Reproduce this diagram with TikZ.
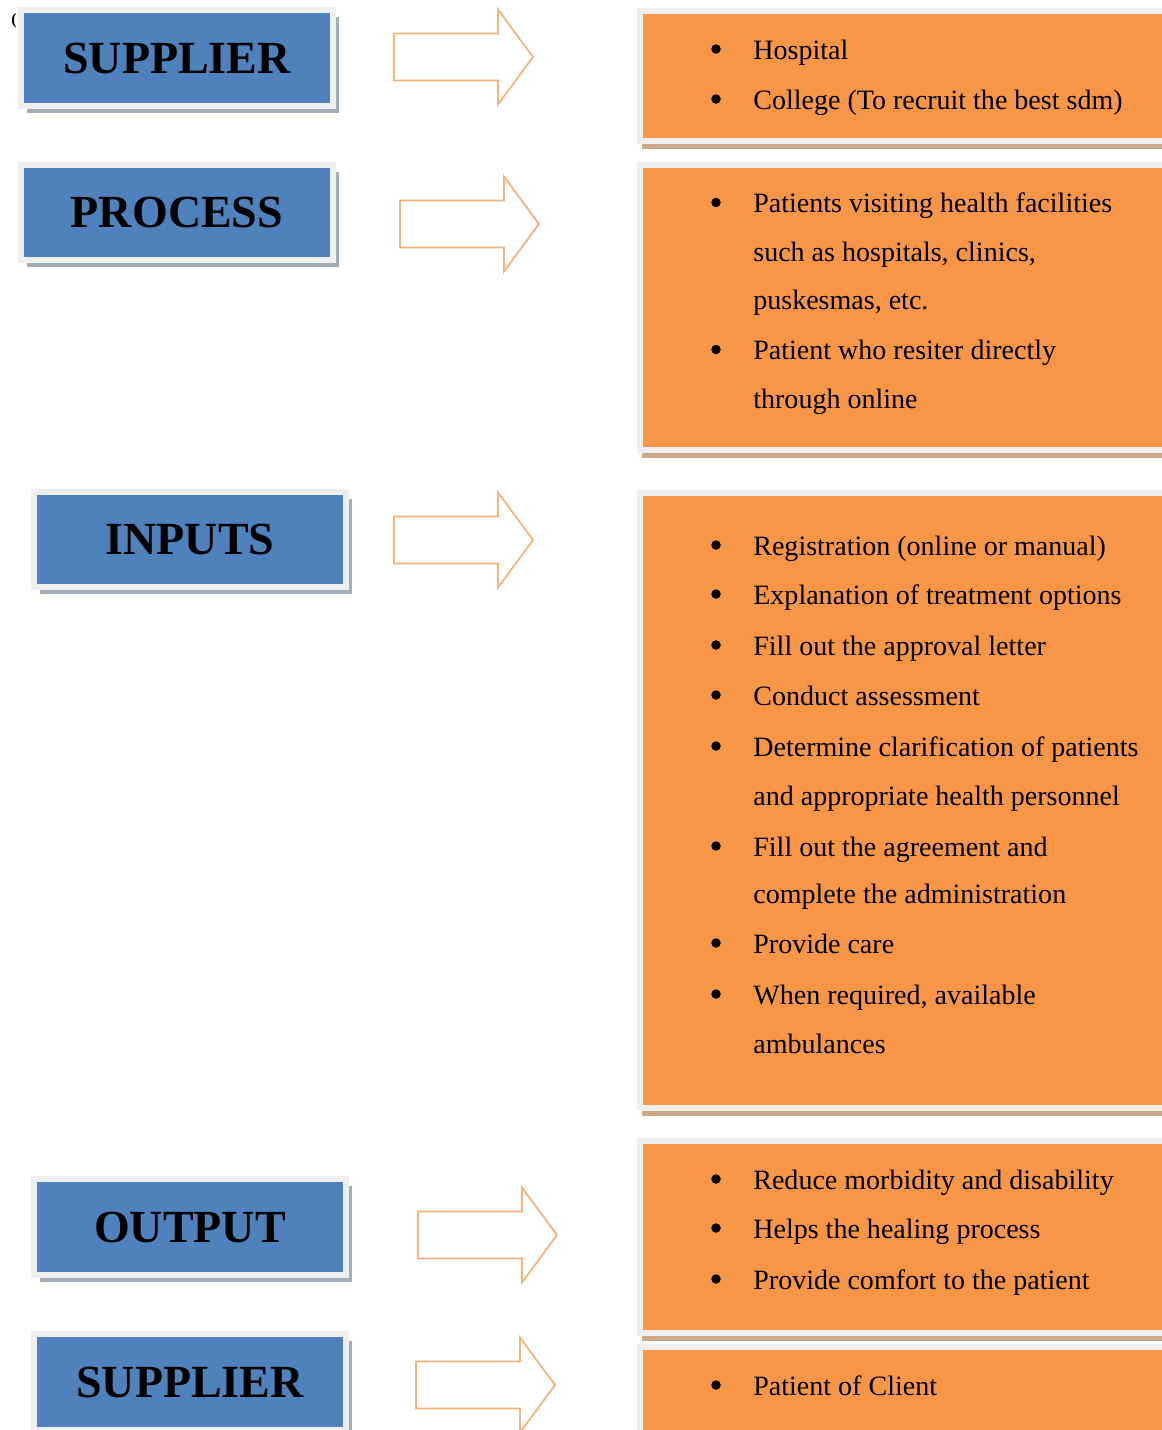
\documentclass[tikz,border=0pt]{standalone}
\usepackage{fontspec}
\setmainfont{Liberation Serif}
\usepackage{xcolor}
\usetikzlibrary{shadows}

\definecolor{stageblue}{HTML}{4F81BD}
\definecolor{listorange}{HTML}{F79646}
\definecolor{framegrey}{HTML}{EFEFEF}
\definecolor{blueshade}{HTML}{A3ACBA}
\definecolor{orangeshade}{HTML}{CDA688}
\definecolor{arroworange}{HTML}{F9B07A}

\tikzset{
  stage/.style={draw=framegrey, line width=0.12cm, fill=stageblue,
    minimum width=6.24cm, minimum height=1.92cm, inner sep=0pt, outer sep=0pt,
    font=\fontsize{26.2}{30}\selectfont\bfseries,
    drop shadow={shadow xshift=0.12cm, shadow yshift=-0.14cm, fill=blueshade, opacity=1}},
  listbox/.style={draw=framegrey, line width=0.12cm, fill=listorange,
    minimum width=10.64cm, inner sep=0pt, outer sep=0pt,
    drop shadow={shadow xshift=0.04cm, shadow yshift=-0.16cm, fill=orangeshade, opacity=1}},
  itemtext/.style={anchor=base west, inner sep=0pt, font=\fontsize{15.95}{20}\selectfont},
  bulletmark/.style={circle, fill=black, inner sep=0pt, minimum size=0.19cm},
  pics/blockarrow/.style={code={
    \draw[arroworange, line width=1pt, line join=miter]
      (0,-23.5) -- (104,-23.5) -- (104,-47.5) -- (139,0) -- (104,47.5) -- (104,23.5) -- (0,23.5) -- cycle;}}
}

\begin{document}
\begin{tikzpicture}[x=0.02cm, y=-0.02cm]
        \useasboundingbox (0,0) rectangle (1162,1430);
        \clip (0,0) rectangle (1162,1430);

        \node[inner sep=0pt, font=\fontsize{9}{10}\selectfont\bfseries] (stray) at (14,21) {(};

        \node[stage] (supplierA) at (177,58) {SUPPLIER};
        \node[stage] (process) at (177,212.5) {PROCESS};
        \node[stage] (inputs) at (190,539.5) {INPUTS};
        \node[stage] (output) at (190,1227) {OUTPUT};
        \node[stage] (supplierB) at (190,1382) {SUPPLIER};

        \pic (arrA) at (394,57) {blockarrow};
        \pic (arrB) at (400,224) {blockarrow};
        \pic (arrC) at (394,540) {blockarrow};
        \pic (arrD) at (418,1235) {blockarrow};
        \pic (arrE) at (416,1385) {blockarrow};

        \node[listbox, minimum height=2.6cm] (listA) at (906,76) {};
        \node[listbox, minimum height=5.7cm] (listB) at (906,307.5) {};
        \node[listbox, minimum height=12.3cm] (listC) at (906,800.5) {};
        \node[listbox, minimum height=3.84cm] (listD) at (906,1237) {};
        \node[listbox, minimum height=2.46cm] (listE) at (906,1408.5) {};

        \foreach \y/\b/\t [count=\n] in {
            59/1/Hospital,
            109/1/{College (To recruit the best sdm)},
            212.5/1/{Patients visiting health facilities},
            261.5/0/{such as hospitals, clinics,},
            309.5/0/{puskesmas, etc.},
            359.5/1/{Patient who resiter directly},
            408.5/0/{through online},
            555/1/{Registration (online or manual)},
            604/1/{Explanation of treatment options},
            655/1/{Fill out the approval letter},
            705/1/{Conduct assessment},
            756/1/{Determine clarification of patients},
            805/0/{and appropriate health personnel},
            856/1/{Fill out the agreement and},
            903/0/{complete the administration},
            953/1/{Provide care},
            1004/1/{When required, available},
            1053/0/{ambulances},
            1189/1/{Reduce morbidity and disability},
            1238/1/{Helps the healing process},
            1289/1/{Provide comfort to the patient},
            1395/1/{Patient of Client}}
        {
            \node[itemtext] (item-\n) at (753,\y) {\t};
            \ifnum\b=1
                \node[bulletmark] (bul-\n) at (716,{\y-10}) {};
            \fi
        }
\end{tikzpicture}
\end{document}
